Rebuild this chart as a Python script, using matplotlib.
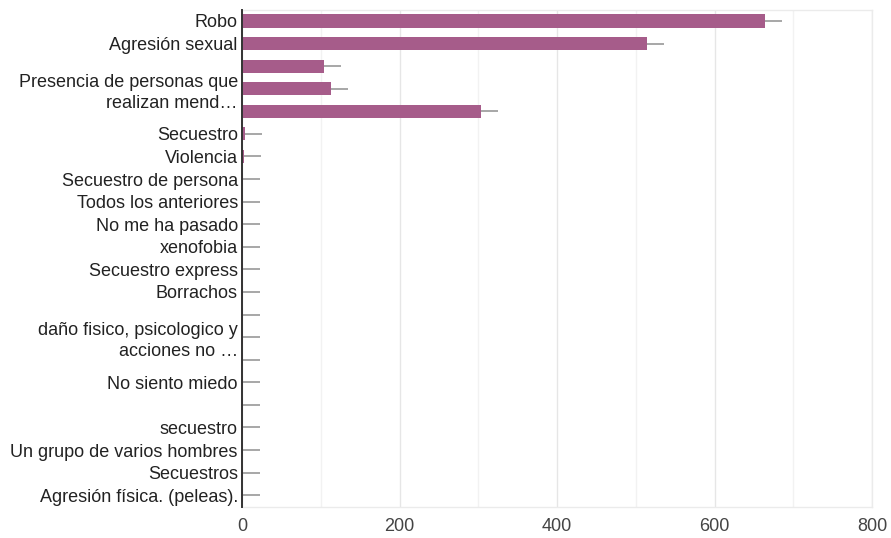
import matplotlib
matplotlib.use("Agg")
import matplotlib.pyplot as plt
import numpy as np

categories = [
    "Robo", "Agresión sexual", "",
    "Presencia de personas que\nrealizan mend…", "",
    "Secuestro", "Violencia", "Secuestro de persona", "Todos los anteriores",
    "No me ha pasado", "xenofobia", "Secuestro express", "Borrachos", "",
    "daño fisico, psicologico y\nacciones no …", "", "No siento miedo", "",
    "secuestro", "Un grupo de varios hombres", "Secuestros",
    "Agresión física. (peleas).",
]
values = [664, 514, 104, 113, 303, 4, 2, 1, 1, 1, 1, 1, 1, 1, 1, 1, 1, 1, 1, 1, 1, 1]
errors = [21.6] * len(values)
x_ticks = [0, 200, 400, 600, 800]

plt.rcParams['font.family'] = ['Liberation Sans', 'DejaVu Sans']

fig = plt.figure(figsize=(8.91, 5.38), dpi=100)
ax = fig.add_axes([242/891, 1-506.5/538, 630/891, (506.5-9.7)/538])

y = np.arange(len(categories))
ax.barh(y, values, height=0.58, color='#a65c8a', edgecolor='#a65c8a',
        linewidth=0, zorder=3)
ax.errorbar(values, y, xerr=[np.zeros(len(values)), errors], fmt='none',
            ecolor='#a0a0a0', elinewidth=1.3, capsize=0, zorder=2)

ax.set_xlim(0, 800)
ax.set_ylim(len(categories) - 0.5, -0.5)
ax.set_xticks(x_ticks)
ax.set_xticks([100, 300, 500, 700], minor=True)
ax.set_yticks(y)
ax.set_yticklabels(categories, fontsize=13, color='#222222', linespacing=1.3)
ax.tick_params(axis='y', length=0, pad=3)
ax.tick_params(axis='x', which='both', length=0, pad=8, labelsize=13,
               labelcolor='#444444')

ax.grid(axis='x', which='major', color='#e6e6e6', linewidth=1.0, zorder=0)
ax.grid(axis='x', which='minor', color='#f2f2f2', linewidth=1.0, zorder=0)
ax.set_axisbelow(True)

for s in ['top', 'right', 'bottom']:
    ax.spines[s].set_color('#ebebeb')
    ax.spines[s].set_linewidth(1.0)
ax.spines['left'].set_color('#333333')
ax.spines['left'].set_linewidth(1.4)
ax.spines['left'].set_zorder(5)

fig.savefig("out.png", dpi=100)
